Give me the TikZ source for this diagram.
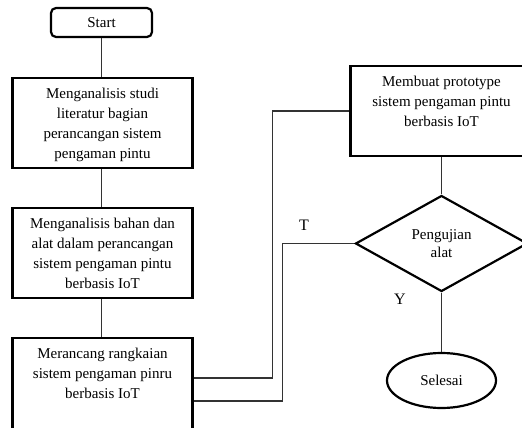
\documentclass[tikz,border=0pt]{standalone}
\usepackage{fontspec}
\setmainfont{Liberation Serif}
\usetikzlibrary{shapes.geometric,calc}
\begin{document}
\begin{tikzpicture}[x=1pt,y=-1pt,
  boxst/.style={draw=black,line width=2.2pt,rectangle,inner sep=0pt},
  txt/.style={align=center,inner sep=0pt,font=\fontsize{15}{20}\selectfont},
  conn/.style={draw=black!80,line width=1.1pt},
  lbl/.style={inner sep=0pt,font=\fontsize{16}{18}\selectfont}]
\useasboundingbox (0,0) rectangle (522,428);
\clip (0,0) rectangle (522,428);
% boxes
\node[boxst, rounded corners=5pt, minimum width=101pt, minimum height=29pt, font=\fontsize{15}{18}\selectfont] (start) at (101.5,22.5) {Start};
\node[boxst, minimum width=180pt, minimum height=90pt] (b2) at (102.5,123) {};
\node[txt, anchor=north] (t2) at ($(b2.north)+(0,7)$) {\strut Menganalisis studi\\literatur bagian\\perancangan sistem\\pengaman pintu};
\node[boxst, minimum width=180pt, minimum height=90pt] (b3) at (102.5,253) {};
\node[txt, anchor=north] (t3) at ($(b3.north)+(0,7)$) {\strut Menganalisis bahan dan\\alat dalam perancangan\\sistem pengaman pintu\\berbasis IoT};
\node[boxst, minimum width=180pt, minimum height=96pt] (b4) at (102.5,386) {};
\node[txt, anchor=north] (t4) at ($(b4.north)+(0,7)$) {\strut Merancang rangkaian\\sistem pengaman pinru\\berbasis IoT};
\node[boxst, minimum width=182pt, minimum height=90pt] (b5) at (441.5,111) {};
\node[txt, anchor=north] (t5) at ($(b5.north)+(0,7)$) {\strut Membuat prototype\\sistem pengaman pintu\\berbasis IoT};
\node[draw=black, line width=2.2pt, diamond, aspect=1.8, minimum width=172pt, minimum height=96pt, inner sep=0pt, align=center, font=\fontsize{15}{18}\selectfont] (dia) at (441.5,243.5) {Pengujian\\alat};
\node[draw=black, line width=2.2pt, ellipse, minimum width=109pt, minimum height=55pt, inner sep=0pt, font=\fontsize{15}{18}\selectfont] (end) at (441.5,380.5) {Selesai};
% labels
\node[lbl] (T) at (304,225) {T};
\node[lbl] (Y) at (400,299) {Y};
% connectors
\draw[conn] (start.south) -- (start.south |- b2.north);
\draw[conn] (start.south |- b2.south) -- (start.south |- b3.north);
\draw[conn] (start.south |- b3.south) -- (start.south |- b4.north);
\draw[conn] (b4.east |- 0,378) -- (272.7,378) |- (b5.west);
\draw[conn] (dia.west) -- (282.7,243.5) |- (b4.east |- 0,401);
\draw[conn] (b5.south) -- (dia.north);
\draw[conn] (dia.south) -- (end.north);
\end{tikzpicture}
\end{document}
